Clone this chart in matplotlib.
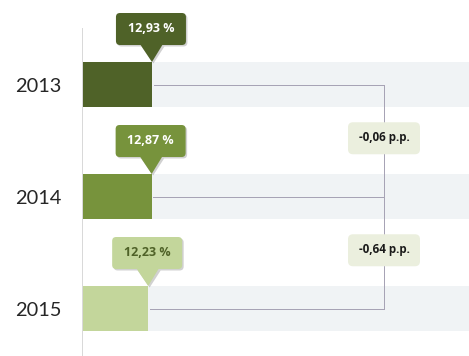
import matplotlib
matplotlib.use("Agg")
import matplotlib.pyplot as plt
from matplotlib.patches import FancyBboxPatch, Polygon
from matplotlib.offsetbox import DrawingArea, AnnotationBbox
from matplotlib.text import Text

plt.rcParams['font.family'] = ['Lato', 'DejaVu Sans']
bold_family = ['Open Sans', 'DejaVu Sans']

# дані
years = ['2013', '2014', '2015']
values = [12.93, 12.87, 12.23]
value_labels = ['12,93 %', '12,87 %', '12,23 %']
delta_labels = ['-0,06 p.p.', '-0,64 p.p.']

bar_colors = ['#4f6228', '#77933c', '#c3d69b']
text_colors = ['white', 'white', '#4f6228']
track_color = '#f0f3f5'
line_color = '#a7a3b5'

fig = plt.figure(figsize=(469 / 72, 356 / 72), dpi=72)
ax = fig.add_axes([82 / 469, 0, 387 / 469, 1])

x_max = 387 / 5.41
step = 112.0
ax.set_xlim(0, x_max)
ax.set_ylim((356 - 84.5) / step, -84.5 / step)
h = 45 / step
pos = list(range(len(years)))

ax.barh(pos, [x_max] * len(pos), height=h, color=track_color, zorder=1)
ax.barh(pos, values, height=h, color=bar_colors, zorder=2)

# з'єднувальні лінії
conn_x = (384 - 82) / 5.41
for i, v in enumerate(values):
    ax.plot([v + 0.3, conn_x], [i, i], color=line_color, lw=1, zorder=3)
ax.plot([conn_x, conn_x], [0, len(values) - 1], color=line_color, lw=1, zorder=3)

# вертикальна вісь
ax.axvline(0, ymin=0, ymax=(356 - 28) / 356, color='#d9d9d9', lw=1, zorder=4)

for s in ax.spines.values():
    s.set_visible(False)
ax.set_xticks([])
ax.set_yticks(pos)
ax.set_yticklabels(years, fontsize=20, color='#262626')
ax.tick_params(axis='y', length=0, pad=21)

# виноски зі значеннями
bw, bh = 70, 32
offx, offy = -1, 33
for i, v in enumerate(values):
    da = DrawingArea(bw, bh, clip=False)
    tipx, tipy = bw / 2 - offx, bh / 2 - offy
    shadow = FancyBboxPatch((1.5, -1.5), bw, bh, boxstyle='round,pad=0,rounding_size=4',
                            fc='#000000', ec='none', alpha=0.18)
    da.add_artist(shadow)
    sh_tri = Polygon([(bw / 2 - 11 + 1.5, -1.5), (bw / 2 + 12 + 1.5, -1.5), (tipx + 1.5, tipy - 1.5)],
                     closed=True, fc='#000000', ec='none', alpha=0.18)
    da.add_artist(sh_tri)
    tri = Polygon([(bw / 2 - 11, 1), (bw / 2 + 12, 1), (tipx, tipy)], closed=True,
                  fc=bar_colors[i], ec='none')
    da.add_artist(tri)
    box = FancyBboxPatch((0, 0), bw, bh, boxstyle='round,pad=0,rounding_size=4',
                         fc=bar_colors[i], ec='none')
    da.add_artist(box)
    da.add_artist(Text(bw / 2, bh / 2 + 1, value_labels[i], ha='center', va='center',
                       fontsize=12.5, fontweight='bold', color=text_colors[i],
                       family=bold_family))
    ab = AnnotationBbox(da, (v, i - h / 2), xybox=(offx, offy), boxcoords='offset points',
                        frameon=False, pad=0, zorder=6)
    ax.add_artist(ab)

# різниця між роками
dw, dh = 72, 32
for j, lab in enumerate(delta_labels):
    da = DrawingArea(dw, dh, clip=False)
    da.add_artist(FancyBboxPatch((0, 0), dw, dh, boxstyle='round,pad=0,rounding_size=5',
                                 fc='#ebefde', ec='none'))
    da.add_artist(Text(dw / 2, dh / 2 + 1, lab, ha='center', va='center', fontsize=11.5,
                       fontweight='bold', color='#1a1a1a', family=bold_family))
    ab = AnnotationBbox(da, (conn_x, j + 0.48), frameon=False, pad=0, zorder=6)
    ax.add_artist(ab)

fig.savefig('out.png', dpi=72)
